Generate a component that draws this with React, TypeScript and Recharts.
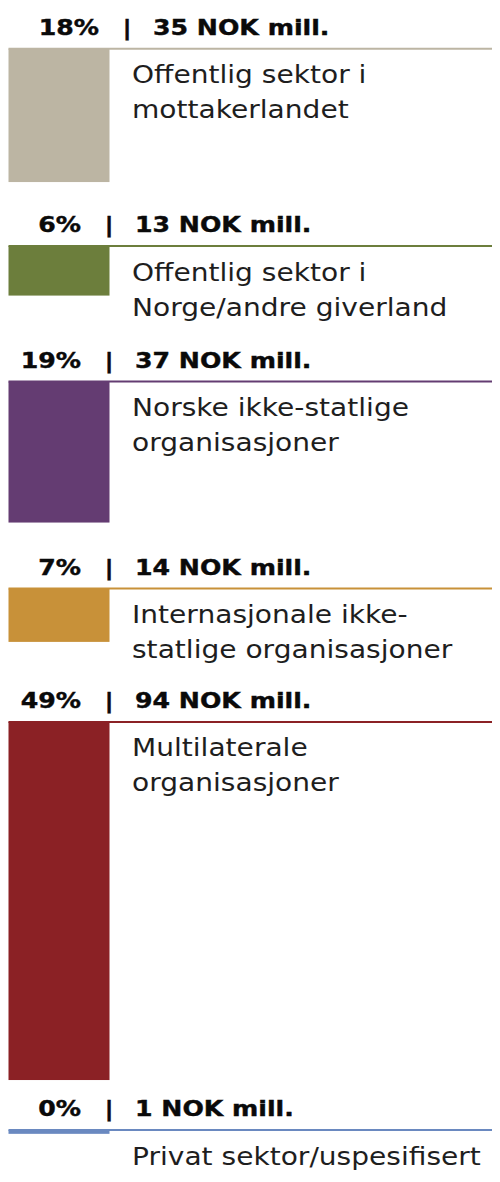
import React from "react";
import { BarChart, Bar, XAxis, YAxis } from "recharts";

// labels (two lines each), shares in %, amounts in NOK mill.
const categories = [
  ["Offentlig sektor i", "mottakerlandet"],
  ["Offentlig sektor i", "Norge/andre giverland"],
  ["Norske ikke-statlige", "organisasjoner"],
  ["Internasjonale ikke-", "statlige organisasjoner"],
  ["Multilaterale", "organisasjoner"],
  ["Privat sektor/uspesifisert"],
];
const shares = [18, 6, 19, 7, 49, 0];
const amounts = [35, 13, 37, 14, 94, 1];
const colors = ["#bcb5a3", "#6c7e3c", "#643c72", "#c89139", "#8b2125", "#6a89c0"];

// layout in px
const W = 492;
const H = 1174;
const PX_PER_MILL = 3.81;
const TOP = 40.7;
const BAR_W = 101;
const GAPS = [64, 86, 66, 80, 50]; // white space under each block
const HEAD_SHIFT = [18, 0, 0, 0, 0, 0];
const FONT = '"DejaVu Sans", Verdana, sans-serif';

let pos = 0;
const rows = amounts.map((v, i) => {
  const row = { x: 0.5, range: [pos, pos + v], i };
  pos += v + (GAPS[i] ?? 0) / PX_PER_MILL;
  return row;
});
const domainMax = rows[rows.length - 1].range[1];
const plotH = domainMax * PX_PER_MILL;

const Block = (props: any) => {
  const { x, y, width, height } = props;
  const index = props.index ?? props.payload?.i ?? 0;
  const top = Math.min(y, y + height);
  const h = Math.abs(height);
  const c = colors[index];
  const s = HEAD_SHIFT[index];
  const hy = top - 14;
  return (
    <g>
      <rect x={x} y={top} width={width} height={h} fill={c} />
      <line x1={x} x2={W} y1={top} y2={top} stroke={c} strokeWidth={2} />
      <g fontFamily={FONT} fontWeight="bold" fontSize={21} fill="#0a0a0a" stroke="#0a0a0a" strokeWidth={0.4}>
        <text transform={`translate(${73 + s},${hy}) scale(1.2,1)`} textAnchor="end">
          {shares[index]}%
        </text>
        <text transform={`translate(${101 + s},${hy}) scale(1.2,1)`} textAnchor="middle">
          |
        </text>
        <text transform={`translate(${127 + s},${hy}) scale(1.2,1)`}>
          {amounts[index]} NOK mill.
        </text>
      </g>
      <g fontFamily={FONT} fontSize={24} fill="#1e1e1e">
        {categories[index].map((t, j) => (
          <text key={j} transform={`translate(124,${top + 34.5 + j * 35}) scale(1.17,1)`}>
            {t}
          </text>
        ))}
      </g>
    </g>
  );
};

export default function App() {
  return (
    <div style={{ width: W, height: H, marginBottom: -8 }}>
      <BarChart
        width={W}
        height={H}
        data={rows}
        margin={{ top: TOP, right: W - BAR_W, bottom: H - TOP - plotH, left: 0 }}
      >
        <XAxis type="number" dataKey="x" domain={[0, 1]} hide />
        <YAxis type="number" domain={[0, domainMax]} reversed hide />
        <Bar dataKey="range" barSize={BAR_W} shape={Block} isAnimationActive={false} />
      </BarChart>
    </div>
  );
}
